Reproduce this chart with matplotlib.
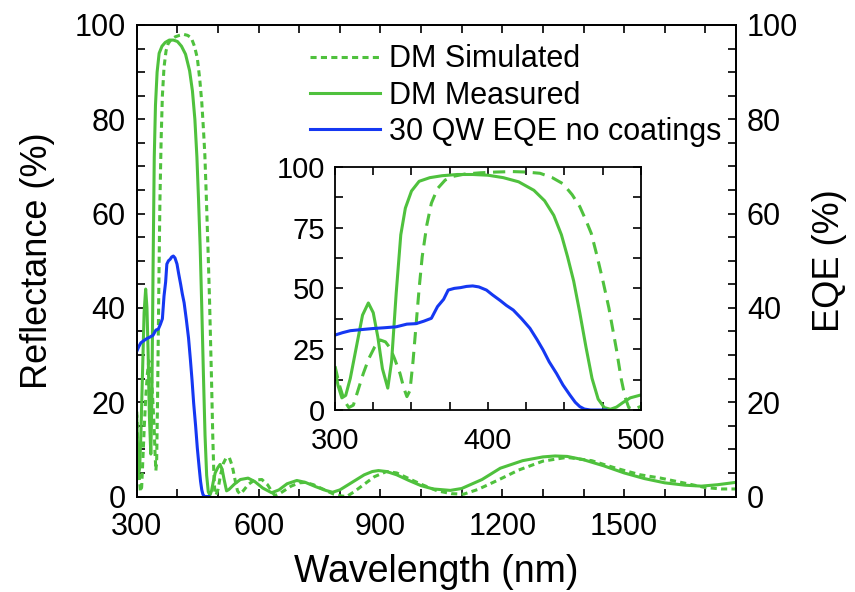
import numpy as np
import matplotlib.pyplot as plt
from matplotlib.ticker import MultipleLocator

plt.rcParams['font.family'] = ['Liberation Sans', 'DejaVu Sans']

# DM measured reflectance (%)
meas_wl = [300, 302, 304.5, 307, 310, 314, 318, 321.8, 325, 328, 331, 334.5, 337, 340,
           343, 346, 350, 355, 362, 370, 380, 390, 400, 410, 420, 430, 437, 443, 448,
           452, 456, 460, 464, 468, 472, 476, 480, 484, 488, 493, 500, 505, 510, 515,
           521, 527, 540, 555, 574, 590, 610, 632, 650, 670, 694, 715, 740, 765, 782,
           800, 830, 860, 880, 895, 915, 940, 970, 1000, 1030, 1072, 1100, 1150, 1195,
           1250, 1300, 1330, 1360, 1400, 1450, 1500, 1550, 1600, 1650, 1690, 1730, 1775]
meas_r = [17, 10, 5, 6, 13, 26, 39, 44, 40, 30, 17, 9, 20, 48,
          72, 83, 90, 94, 95.5, 96.3, 96.8, 96.8, 96.5, 95.5, 93.8, 90.3, 86, 80, 72,
          63, 53, 40, 26, 13, 4.5, 1, 0.3, 1.2, 3, 5, 6.2, 6.8, 5.8, 3.6,
          1.2, 1.5, 2.6, 3.6, 3.9, 3.2, 1.8, 0.8, 1.4, 2.7, 3.4, 3.0, 2.1, 1.3, 0.9,
          1.4, 3.0, 4.6, 5.3, 5.5, 5.3, 4.6, 3.4, 2.3, 1.6, 1.3, 1.7, 3.6, 6.0,
          7.6, 8.4, 8.6, 8.5, 7.8, 6.5, 5.0, 3.8, 2.9, 2.4, 2.2, 2.5, 3.0]

# DM simulated reflectance (%)
sim_wl = [300, 303, 306, 309, 312, 315, 318.5, 322, 326, 329.5, 333, 336, 339, 342.5,
          345, 347, 349, 351, 353, 355, 357, 360, 363, 367, 372, 377, 385, 395, 405,
          416, 425, 434, 442, 449, 455, 460, 464, 467.5, 471, 475, 479, 484, 487,
          489.5, 492, 495, 500, 506, 513, 520, 528, 535, 542, 548, 554, 562, 575,
          590, 608, 622, 633, 640, 655, 680, 700, 715, 735, 760, 785, 805, 817, 835,
          860, 885, 915, 940, 970, 1000, 1040, 1075, 1105, 1140, 1190, 1240, 1300,
          1359, 1420, 1480, 1540, 1590, 1640, 1700, 1740, 1775]
sim_r = [18, 10, 4, 1, 2, 8, 15, 21, 26, 28.8, 28, 25.5, 21, 15,
         9, 5.5, 8, 20, 35, 50, 63, 76, 85, 91, 94.5, 96, 97, 97.5, 97.8,
         98, 97.8, 97.3, 95.5, 93, 88.5, 83.6, 78, 72.6, 64, 53.4, 42, 24.7, 13,
         5.5, 1, 0.3, 1.5, 4.5, 7, 8.2, 8.2, 6.5, 3.5, 1.2, 0.5, 1.2, 2.6,
         3.5, 3.6, 2.5, 1.0, 0.2, 0.8, 2.2, 2.9, 3.0, 2.5, 1.5, 0.5, 0.1, 0, 1.0,
         2.6, 4.2, 5.3, 5.0, 3.8, 2.6, 1.2, 0.6, 0.5, 1.5, 3.5, 5.6, 7.5,
         8.3, 7.6, 6.0, 4.6, 3.9, 3.0, 1.9, 1.6, 1.6]

# 30 QW EQE, no coatings (%)
eqe_wl = [300, 305, 310, 318, 325, 332, 340, 347, 353, 358, 363, 367, 371, 374, 378,
          382, 386, 390, 394, 399, 403, 408, 412, 416.5, 422, 427.4, 432, 436, 440,
          444.8, 449, 453.5, 457, 460, 463, 467, 472, 477]
eqe = [30.8, 31.8, 32.6, 33.1, 33.5, 33.8, 34.2, 35.3, 35.5, 36.5, 37.7, 42.5, 45.5, 49.3, 50.0,
       50.3, 50.8, 51.0, 50.6, 49.3, 47.3, 45.0, 43.0, 41.1, 37.5, 33.6, 29, 24.7, 19.8,
       15, 10.3, 6.2, 3.2, 1.4, 0.4, 0, 0, 0]

green = '#4fc13d'
blue = '#1538f2'

fig = plt.figure(figsize=(8.55, 5.92), dpi=100)
ax = fig.add_axes([0.160, 0.1613, 0.7006, 0.7965])
ax2 = ax.twinx()

l_sim, = ax.plot(sim_wl, sim_r, color=green, lw=2.2, dashes=(2, 1.4))
l_meas, = ax.plot(meas_wl, meas_r, color=green, lw=2.2)
l_eqe, = ax2.plot(eqe_wl, eqe, color=blue, lw=2.2)

ax.set_xlim(300, 1775)
ax.set_ylim(0, 100)
ax2.set_ylim(0, 100)
ax.xaxis.set_major_locator(MultipleLocator(300))
ax.xaxis.set_minor_locator(MultipleLocator(100))
for a in (ax, ax2):
    a.yaxis.set_major_locator(MultipleLocator(20))
    a.yaxis.set_minor_locator(MultipleLocator(5))
    for s in a.spines.values():
        s.set_linewidth(1.3)
ax.tick_params(which='both', direction='in', top=True, right=False, length=6, width=1.2,
               labelsize=22, pad=8)
ax.tick_params(axis='x', which='both', pad=11)
ax2.tick_params(which='both', direction='in', length=6, width=1.2, labelsize=22, pad=8)

ax.set_xlabel('Wavelength (nm)', fontsize=27, labelpad=9)
ax.set_ylabel('Reflectance (%)', fontsize=26, labelpad=14)
ax2.set_ylabel('EQE (%)', fontsize=26, labelpad=10)

ax.legend([l_sim, l_meas, l_eqe], ['DM Simulated', 'DM Measured', '30 QW EQE no coatings'],
          loc='upper left', bbox_to_anchor=(0.362, 0.925), bbox_transform=fig.transFigure,
          frameon=False, fontsize=22, handlelength=2.3, handletextpad=0.3,
          labelspacing=0.2, borderpad=0, borderaxespad=0)

# inset: zoom on the stop band
ins = fig.add_axes([0.3918, 0.3074, 0.3579, 0.411])
ins.plot(sim_wl, sim_r, color=green, lw=2.2, dashes=(4, 2.5))
ins.plot(meas_wl, meas_r, color=green, lw=2.2)
ins.plot(eqe_wl, eqe, color=blue, lw=2.2)
ins.set_xlim(300, 500)
ins.set_ylim(0, 100)
ins.xaxis.set_major_locator(MultipleLocator(100))
ins.xaxis.set_minor_locator(MultipleLocator(25))
ins.yaxis.set_major_locator(MultipleLocator(25))
ins.yaxis.set_minor_locator(MultipleLocator(12.5))
ins.tick_params(which='both', direction='in', top=True, right=True, length=6, width=1.2,
                labelsize=21, pad=7)
ins.tick_params(axis='x', which='both', pad=12)
for s in ins.spines.values():
    s.set_linewidth(1.3)

fig.savefig('out.png', dpi=100)
